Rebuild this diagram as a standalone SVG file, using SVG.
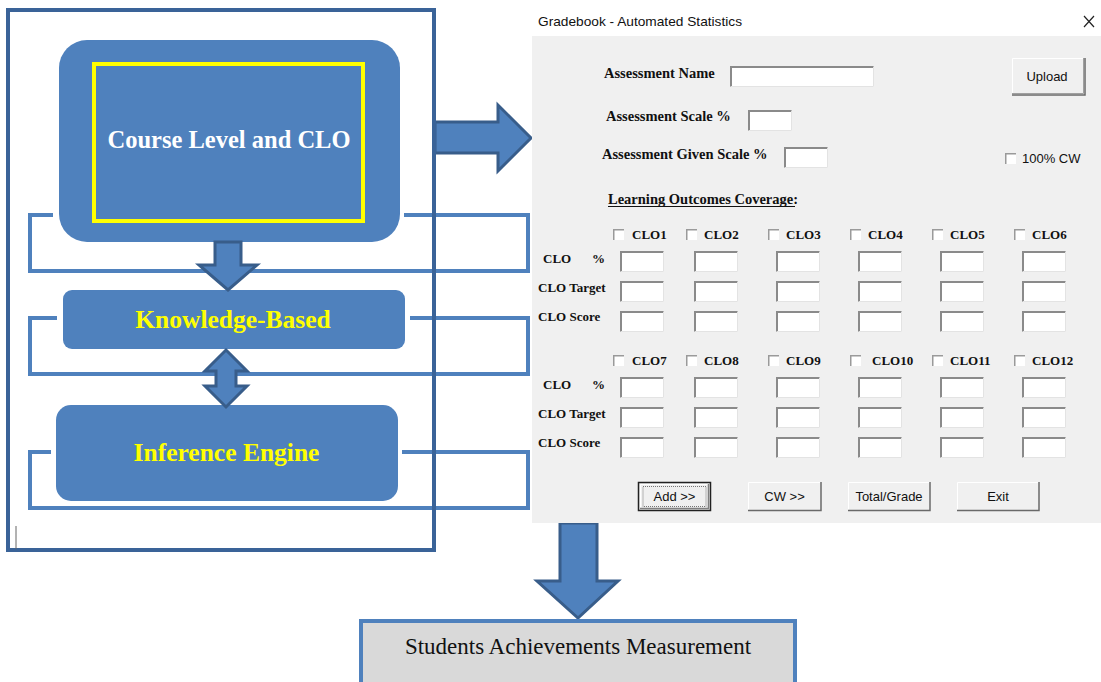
<svg xmlns="http://www.w3.org/2000/svg" xmlns:xlink="http://www.w3.org/1999/xlink" width="1101" height="682" viewBox="0 0 1101 682">
  <style>
    .loop { fill: none; stroke: #4F81BD; stroke-width: 4; }
    .box { fill: #4F81BD; }
    .arrow { fill: #4F81BD; stroke: #385D8A; stroke-width: 3; stroke-linejoin: miter; }
    .head { font-family: "Liberation Serif", "Times New Roman", serif; font-weight: bold; text-anchor: middle; }
    .lbl { font-family: "Liberation Serif", "Times New Roman", serif; font-weight: bold; font-size: 14.5px; fill: #111; }
    .clo { font-family: "Liberation Serif", "Times New Roman", serif; font-weight: bold; font-size: 13px; fill: #111; }
    .ui { font-family: "Liberation Sans", Arial, sans-serif; font-size: 13px; fill: #111; }
    .btn { font-family: "Liberation Sans", Arial, sans-serif; font-size: 13px; fill: #111; text-anchor: middle; }
  </style>
  <defs>
    <!-- sunken text field -->
    <g id="tb">
      <rect x="0" y="0" width="44" height="21" fill="#FFFFFF"/>
      <path d="M1,21 V1 H44" fill="none" stroke="#8A8A8A" stroke-width="2"/>
      <path d="M0.5,20.5 H43.5 V0.5" fill="none" stroke="#E3E3E3" stroke-width="1"/>
    </g>
    <!-- check box -->
    <g id="cb">
      <rect x="0" y="0" width="11" height="11" fill="#FFFFFF"/>
      <path d="M0.75,11 V0.75 H11" fill="none" stroke="#9A9A9A" stroke-width="1.5"/>
    </g>
  </defs>

  <rect width="1101" height="682" fill="#FFFFFF"/>

  <!-- feedback loops behind the blocks -->
  <g id="connectors">
    <path class="loop" d="M53,215 H30 V271 H528 V215 H404"/>
    <path class="loop" d="M57,318 H30 V374 H528 V318 H410"/>
    <path class="loop" d="M51,452 H30 V508 H528 V452 H402"/>
  </g>

  <!-- expert system blocks -->
  <g id="course-level">
    <rect class="box" x="59" y="40" width="341" height="202" rx="28"/>
    <rect x="94" y="64" width="269" height="157" fill="none" stroke="#FFFF00" stroke-width="4"/>
    <text class="head" x="229" y="148" font-size="24.5" fill="#FFFFFF">Course Level and CLO</text>
  </g>
  <g id="knowledge-based">
    <rect class="box" x="63" y="290" width="342" height="59" rx="9"/>
    <text class="head" x="233" y="328" font-size="25.5" fill="#FFFF00">Knowledge-Based</text>
  </g>
  <g id="inference-engine">
    <rect class="box" x="56" y="405" width="342" height="96" rx="15"/>
    <text class="head" x="226.5" y="461" font-size="25.5" fill="#FFFF00">Inference Engine</text>
  </g>

  <!-- block arrows -->
  <g id="arrows">
    <polygon class="arrow" points="215,242 241,242 241,265 257,265 228,290 199,265 215,265"/>
    <polygon class="arrow" points="226,350 247,371 236,371 236,386 247,386 226,407 205,386 216,386 216,371 205,371"/>
    <polygon class="arrow" points="435,122 498,122 498,105 531,138 498,171 498,153 435,153"/>
    <polygon class="arrow" points="560,523 597,523 597,581 618,581 578,618 537,581 560,581"/>
  </g>

  <!-- outer frame -->
  <g id="frame">
    <rect x="8" y="10" width="426" height="540" fill="none" stroke="#3A6398" stroke-width="4"/>
    <line x1="16" y1="526" x2="16" y2="549" stroke="#666666" stroke-width="1"/>
  </g>

  <!-- gradebook dialog -->
  <g id="dialog">
    <rect x="532" y="36" width="569" height="487" fill="#F0F0F0"/>
    <text class="ui" x="538" y="26" font-size="13.5" textLength="204" lengthAdjust="spacingAndGlyphs">Gradebook - Automated Statistics</text>
    <path d="M1084,16 L1094,27 M1094,16 L1084,27" stroke="#222" stroke-width="1.2"/>

    <text class="lbl" x="604" y="78">Assessment Name</text>
    <g>
      <rect x="730" y="66" width="144" height="21" fill="#FFFFFF"/>
      <path d="M731,87 V67 H874" fill="none" stroke="#8A8A8A" stroke-width="2"/>
      <path d="M730.5,86.5 H873.5 V66.5" fill="none" stroke="#E3E3E3"/>
    </g>
    <text class="lbl" x="606" y="121">Assessment Scale %</text>
    <use xlink:href="#tb" x="748" y="110"/>
    <text class="lbl" x="602" y="159">Assessment Given Scale %</text>
    <use xlink:href="#tb" x="784" y="147"/>

    <g id="upload">
      <rect x="1012" y="58" width="72" height="36" fill="#F0F0F0"/>
      <path d="M1012.5,94 V58.5 H1084" fill="none" stroke="#FFFFFF" stroke-width="1"/>
      <path d="M1012,93.5 H1083.5 V58" fill="none" stroke="#A0A0A0" stroke-width="1"/>
      <path d="M1012,95 H1085 V58" fill="none" stroke="#696969" stroke-width="1.5"/>
      <text class="btn" x="1047" y="81">Upload</text>
    </g>

    <use xlink:href="#cb" x="1005" y="153"/>
    <text class="ui" x="1022" y="163">100% CW</text>

    <text class="lbl" x="608" y="204">Learning Outcomes Coverage:</text>
    <line x1="608" y1="206.5" x2="795" y2="206.5" stroke="#111" stroke-width="1"/>

    <!-- CLO 1-6 -->
    <use xlink:href="#cb" x="613" y="229"/><text class="clo" x="632" y="238.5">CLO1</text>
    <use xlink:href="#cb" x="686" y="229"/><text class="clo" x="704" y="238.5">CLO2</text>
    <use xlink:href="#cb" x="768" y="229"/><text class="clo" x="786" y="238.5">CLO3</text>
    <use xlink:href="#cb" x="850" y="229"/><text class="clo" x="868" y="238.5">CLO4</text>
    <use xlink:href="#cb" x="932" y="229"/><text class="clo" x="950" y="238.5">CLO5</text>
    <use xlink:href="#cb" x="1014" y="229"/><text class="clo" x="1032" y="238.5">CLO6</text>

    <text class="clo" x="543" y="263">CLO</text><text class="clo" x="592" y="263">%</text>
    <text class="clo" x="538" y="292">CLO Target</text>
    <text class="clo" x="538" y="321">CLO Score</text>

    <use xlink:href="#tb" x="620" y="251"/><use xlink:href="#tb" x="694" y="251"/><use xlink:href="#tb" x="776" y="251"/>
    <use xlink:href="#tb" x="858" y="251"/><use xlink:href="#tb" x="940" y="251"/><use xlink:href="#tb" x="1022" y="251"/>
    <use xlink:href="#tb" x="620" y="281"/><use xlink:href="#tb" x="694" y="281"/><use xlink:href="#tb" x="776" y="281"/>
    <use xlink:href="#tb" x="858" y="281"/><use xlink:href="#tb" x="940" y="281"/><use xlink:href="#tb" x="1022" y="281"/>
    <use xlink:href="#tb" x="620" y="311"/><use xlink:href="#tb" x="694" y="311"/><use xlink:href="#tb" x="776" y="311"/>
    <use xlink:href="#tb" x="858" y="311"/><use xlink:href="#tb" x="940" y="311"/><use xlink:href="#tb" x="1022" y="311"/>

    <!-- CLO 7-12 -->
    <use xlink:href="#cb" x="613" y="355"/><text class="clo" x="632" y="364.5">CLO7</text>
    <use xlink:href="#cb" x="686" y="355"/><text class="clo" x="704" y="364.5">CLO8</text>
    <use xlink:href="#cb" x="768" y="355"/><text class="clo" x="786" y="364.5">CLO9</text>
    <use xlink:href="#cb" x="850" y="355"/><text class="clo" x="872" y="364.5">CLO10</text>
    <use xlink:href="#cb" x="932" y="355"/><text class="clo" x="950" y="364.5">CLO11</text>
    <use xlink:href="#cb" x="1014" y="355"/><text class="clo" x="1032" y="364.5">CLO12</text>

    <text class="clo" x="543" y="389">CLO</text><text class="clo" x="592" y="389">%</text>
    <text class="clo" x="538" y="418">CLO Target</text>
    <text class="clo" x="538" y="447">CLO Score</text>

    <use xlink:href="#tb" x="620" y="377"/><use xlink:href="#tb" x="694" y="377"/><use xlink:href="#tb" x="776" y="377"/>
    <use xlink:href="#tb" x="858" y="377"/><use xlink:href="#tb" x="940" y="377"/><use xlink:href="#tb" x="1022" y="377"/>
    <use xlink:href="#tb" x="620" y="407"/><use xlink:href="#tb" x="694" y="407"/><use xlink:href="#tb" x="776" y="407"/>
    <use xlink:href="#tb" x="858" y="407"/><use xlink:href="#tb" x="940" y="407"/><use xlink:href="#tb" x="1022" y="407"/>
    <use xlink:href="#tb" x="620" y="437"/><use xlink:href="#tb" x="694" y="437"/><use xlink:href="#tb" x="776" y="437"/>
    <use xlink:href="#tb" x="858" y="437"/><use xlink:href="#tb" x="940" y="437"/><use xlink:href="#tb" x="1022" y="437"/>

    <!-- command buttons -->
    <g id="btn-add">
      <rect x="638.5" y="482.5" width="72" height="28" fill="#F0F0F0" stroke="#222" stroke-width="1.5"/>
      <path d="M640.5,509 V484.5 H709" fill="none" stroke="#FFFFFF"/>
      <path d="M640,508.5 H708.5 V484" fill="none" stroke="#808080" stroke-width="1.5"/>
      <rect x="643" y="486.5" width="63" height="20" fill="none" stroke="#555" stroke-width="0.8" stroke-dasharray="1 1"/>
      <text class="btn" x="674.5" y="501">Add &gt;&gt;</text>
    </g>
    <g id="btn-cw">
      <rect x="748" y="482" width="73" height="29" fill="#F0F0F0"/>
      <path d="M748.5,511 V482.5 H821" fill="none" stroke="#FFFFFF"/>
      <path d="M748,510.5 H821 V482" fill="none" stroke="#696969" stroke-width="1.5"/>
      <text class="btn" x="784.5" y="501">CW &gt;&gt;</text>
    </g>
    <g id="btn-total">
      <rect x="848" y="482" width="82" height="29" fill="#F0F0F0"/>
      <path d="M848.5,511 V482.5 H930" fill="none" stroke="#FFFFFF"/>
      <path d="M848,510.5 H930 V482" fill="none" stroke="#696969" stroke-width="1.5"/>
      <text class="btn" x="889" y="501">Total/Grade</text>
    </g>
    <g id="btn-exit">
      <rect x="957" y="482" width="82" height="29" fill="#F0F0F0"/>
      <path d="M957.5,511 V482.5 H1039" fill="none" stroke="#FFFFFF"/>
      <path d="M957,510.5 H1039 V482" fill="none" stroke="#696969" stroke-width="1.5"/>
      <text class="btn" x="998" y="501">Exit</text>
    </g>
  </g>

  <!-- result block -->
  <g id="achievements">
    <rect x="361" y="621" width="434" height="80" fill="#D9D9D9" stroke="#4F81BD" stroke-width="4"/>
    <text x="578" y="654" font-family="'Liberation Serif', 'Times New Roman', serif" font-size="23" fill="#111" text-anchor="middle">Students Achievements Measurement</text>
  </g>
</svg>
